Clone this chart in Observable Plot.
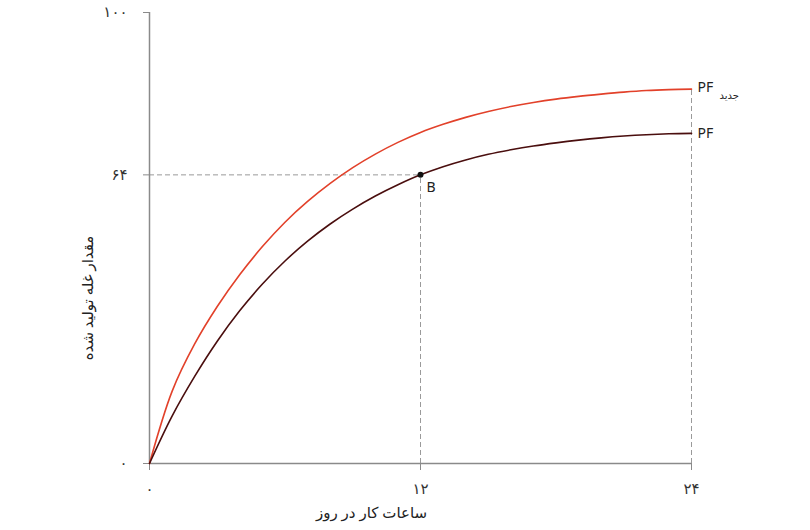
<!DOCTYPE html>
<html>
<head>
<meta charset="utf-8">
<script src="https://cdn.jsdelivr.net/npm/d3@7"></script>
<script src="https://cdn.jsdelivr.net/npm/@observablehq/plot@0.6"></script>
<style>
  html, body { margin: 0; padding: 0; background: #fff; }
  #chart { width: 810px; height: 530px; }
  svg { font-family: "Noto Sans", "DejaVu Sans", sans-serif; }
</style>
</head>
<body>
<div id="chart"></div>
<script>
// Data (hours 0..24)
const hours = [0, 1, 2, 3, 4, 5, 6, 7, 8, 9, 10, 11, 12, 13, 14, 15, 16, 17, 18, 19, 20, 21, 22, 23, 24];
const pfOld = [0, 10.5, 19.3, 27.1, 33.9, 39.8, 44.9, 49.3, 53.1, 56.4, 59.3, 61.8, 64.0,
               65.8, 67.3, 68.55, 69.55, 70.4, 71.1, 71.7, 72.2, 72.6, 72.9, 73.1, 73.2];
const pfNew = [0, 16, 26.5, 34.8, 41.9, 48.1, 53.5, 58.1, 62.1, 65.6, 68.6, 71.2, 73.4,
               75.2, 76.75, 78.05, 79.15, 80.05, 80.8, 81.4, 81.9, 82.35, 82.7, 82.9, 83.0];
const xTicks = [0, 12, 24];
const xTickLabels = ["۰", "۱۲", "۲۴"];
const yTicks = [0, 64, 100];
const yTickLabels = ["۰", "۶۴", "۱۰۰"];
const xLabel = "ساعات کار در روز";
const yLabel = "مقدار غله تولید شده";
const pointB = {x: 12, y: 64, label: "B"};
const seriesNames = ["PF", "PF"];
const newSubscript = "جدید";

const oldData = hours.map((h, i) => ({x: h, y: pfOld[i]}));
const newData = hours.map((h, i) => ({x: h, y: pfNew[i]}));
const xFmt = d => xTickLabels[xTicks.indexOf(d)];
const yFmt = d => yTickLabels[yTicks.indexOf(d)];

const gray = "#8a8a8a";
const dashed = "#9a9a9a";

const chart = Plot.plot({
  width: 810,
  height: 530,
  marginLeft: 149,
  marginRight: 119,
  marginTop: 12,
  marginBottom: 67,
  x: {domain: [0, 24], label: null},
  y: {domain: [0, 100], label: null},
  style: {fontSize: "13px", color: "#333"},
  marks: [
    // dashed guides
    Plot.ruleY([pointB], {y: "y", x1: 0, x2: "x", stroke: dashed, strokeDasharray: "5,3", strokeWidth: 1}),
    Plot.ruleX([pointB], {x: "x", y1: 0, y2: "y", stroke: dashed, strokeDasharray: "5,3", strokeWidth: 1}),
    Plot.ruleX([24], {y1: 0, y2: pfNew[pfNew.length - 1], stroke: dashed, strokeDasharray: "5,3", strokeWidth: 1}),
    // axis lines
    Plot.ruleX([0], {y1: 0, y2: 100, stroke: gray, strokeWidth: 1.5}),
    Plot.ruleY([0], {x1: 0, x2: 24, stroke: gray, strokeWidth: 1.5}),
    Plot.axisX({ticks: xTicks, tickFormat: xFmt, tickSize: 7, tickPadding: 13, stroke: gray, fill: "#333", fontSize: 15, label: null}),
    Plot.axisY({ticks: yTicks, tickFormat: yFmt, tickSize: 6, tickPadding: 16, stroke: gray, fill: "#333", fontSize: 15, label: null}),
    // curves
    Plot.line(newData, {x: "x", y: "y", stroke: "#e2412a", strokeWidth: 1.6, curve: "catmull-rom"}),
    Plot.line(oldData, {x: "x", y: "y", stroke: "#4a0e0e", strokeWidth: 1.6, curve: "catmull-rom"}),
    // point B
    Plot.dot([pointB], {x: "x", y: "y", r: 3, fill: "#111"}),
    Plot.text([pointB], {x: "x", y: "y", text: "label", dx: 6, dy: 13, textAnchor: "start", fontSize: 14, fill: "#222"}),
    // series labels
    Plot.text([{x: 24, y: pfOld[pfOld.length - 1]}], {x: "x", y: "y", text: () => seriesNames[0], dx: 6, textAnchor: "start", fontSize: 14, fill: "#222"}),
    Plot.text([{x: 24, y: pfNew[pfNew.length - 1]}], {x: "x", y: "y", text: () => seriesNames[1], dx: 6, dy: -2, textAnchor: "start", fontSize: 14, fill: "#222"}),
    Plot.text([{x: 24, y: pfNew[pfNew.length - 1]}], {x: "x", y: "y", text: () => newSubscript, dx: 28, dy: 7, textAnchor: "start", fontSize: 10, fill: "#222"}),
    // axis titles
    Plot.text([xLabel], {frameAnchor: "bottom", text: d => d, dx: -49, dy: 54, textAnchor: "middle", fontSize: 15, fill: "#222"}),
    Plot.text([yLabel], {frameAnchor: "left", text: d => d, rotate: -90, dx: -61, dy: 60, textAnchor: "middle", fontSize: 15, fill: "#222"})
  ]
});
document.getElementById("chart").appendChild(chart);
</script>
</body>
</html>
